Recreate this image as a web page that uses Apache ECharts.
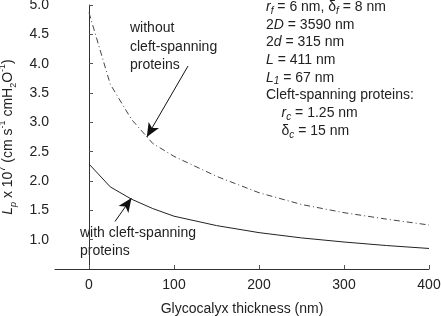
<!DOCTYPE html>
<html>
<head>
<meta charset="utf-8">
<script src="https://cdn.jsdelivr.net/npm/echarts@6/dist/echarts.min.js"></script>
<style>
  html, body { margin: 0; padding: 0; background: #fff; }
  #chart { width: 441px; height: 316px; }
</style>
</head>
<body>
<div id="chart"></div>
<script>
// glycocalyx thickness (nm)
const thickness = [0, 25, 50, 75, 100, 150, 200, 250, 300, 350, 400];
// Lp x 10^7 without cleft-spanning proteins (dash-dot)
const withoutProteins = [4.87, 3.65, 3.05, 2.64, 2.42, 2.08, 1.80, 1.60, 1.46, 1.35, 1.25];
// Lp x 10^7 with cleft-spanning proteins (solid)
const withProteins = [2.29, 1.90, 1.69, 1.53, 1.40, 1.24, 1.12, 1.03, 0.96, 0.90, 0.85];
const xTicks = [0, 100, 200, 300, 400];
const yTicks = [1.0, 1.5, 2.0, 2.5, 3.0, 3.5, 4.0, 4.5, 5.0];

const font = 'Liberation Sans, Arial, sans-serif';

const pairs = (ys) => thickness.map((x, i) => [x, ys[i]]);

const arrow = (from, to) => ({
  silent: true,
  symbol: ['none', 'arrow'],
  symbolSize: [9, 14],
  label: { show: false },
  lineStyle: { color: '#111', width: 1, type: 'solid' },
  emphasis: { disabled: true },
  data: [[{ coord: from }, { coord: to }]]
});

const chart = echarts.init(document.getElementById('chart'));
chart.setOption({
  animation: false,
  textStyle: { fontFamily: font },
  grid: { left: 55, right: 12, top: 5, bottom: 47, containLabel: false, outerBoundsMode: 'none' },
  xAxis: {
    type: 'value',
    min: -40,
    max: 400,
    interval: 100,
    name: 'Glycocalyx thickness (nm)',
    nameLocation: 'middle',
    nameGap: 33,
    nameTextStyle: { fontSize: 14, color: '#222', fontFamily: font },
    axisLine: { lineStyle: { color: '#333', width: 1 } },
    axisTick: { inside: true, length: 4, lineStyle: { color: '#555' }, customValues: xTicks },
    axisLabel: { fontSize: 14, color: '#222', margin: 9, customValues: xTicks },
    splitLine: { show: false }
  },
  yAxis: {
    type: 'value',
    min: 0.5,
    max: 5.0,
    interval: 0.5,
    name: '{i|L}{isub|p}{n| x 10}{sup|7}{n| (cm s}{sup|-1}{n| cmH}{sub|2}{n|O}{sup|-1}{n|)}',
    nameLocation: 'middle',
    nameGap: 37,
    nameTextStyle: {
      fontSize: 14,
      color: '#222',
      rich: {
        n: { fontSize: 14, color: '#222', fontFamily: font, lineHeight: 20, verticalAlign: 'middle' },
        i: { fontSize: 14, color: '#222', fontFamily: font, fontStyle: 'italic', lineHeight: 20, verticalAlign: 'middle' },
        sub: { fontSize: 9, color: '#222', fontFamily: font, lineHeight: 20, verticalAlign: 'bottom' },
        isub: { fontSize: 9, color: '#222', fontFamily: font, fontStyle: 'italic', lineHeight: 20, verticalAlign: 'bottom' },
        sup: { fontSize: 9, color: '#222', fontFamily: font, lineHeight: 20, verticalAlign: 'top' }
      }
    },
    axisLine: { show: true, lineStyle: { color: '#333', width: 1 } },
    axisTick: { show: true, inside: true, length: 4, lineStyle: { color: '#555' }, customValues: yTicks },
    axisLabel: {
      fontSize: 14,
      color: '#222',
      margin: 6,
      customValues: yTicks,
      formatter: (v) => v.toFixed(1)
    },
    splitLine: { show: false }
  },
  series: [
    {
      name: 'without cleft-spanning proteins',
      type: 'line',
      data: pairs(withoutProteins),
      showSymbol: false,
      lineStyle: { color: '#444', width: 1, type: [6, 3, 1, 3] },
      markLine: arrow([116.5, 3.96], [68, 2.75])
    },
    {
      name: 'with cleft-spanning proteins',
      type: 'line',
      data: pairs(withProteins),
      showSymbol: false,
      lineStyle: { color: '#222', width: 1 },
      markLine: arrow([30.6, 1.31], [50, 1.71])
    }
  ],
  graphic: [
    {
      type: 'text', left: 130, top: 19,
      style: { text: 'without\ncleft-spanning\nproteins', font: '14px ' + font, fill: '#222', lineHeight: 18.5 }
    },
    {
      type: 'text', left: 80, top: 224,
      style: { text: 'with cleft-spanning\nproteins', font: '14px ' + font, fill: '#222', lineHeight: 18 }
    },
    {
      type: 'text', left: 266, top: 0,
      style: {
        text: [
          '{i|r}{sub|f}{n| = 6 nm, δ}{sub|f}{n| = 8 nm}',
          '{n|2}{i|D}{n| = 3590 nm}',
          '{n|2}{i|d}{n| = 315 nm}',
          '{i|L}{n| = 411 nm}',
          '{i|L}{sub|1}{n| = 67 nm}',
          '{n|Cleft-spanning proteins:}',
          '{n|    }{i|r}{sub|c}{n| = 1.25 nm}',
          '{n|    δ}{sub|c}{n| = 15 nm}'
        ].join('\n'),
        rich: {
          n: { font: '14px ' + font, fill: '#222', lineHeight: 17.7 },
          i: { font: 'italic 14px ' + font, fill: '#222', lineHeight: 17.7 },
          sub: { font: 'italic 10px ' + font, fill: '#222', lineHeight: 17.7, verticalAlign: 'bottom' }
        }
      }
    }
  ]
});
</script>
</body>
</html>
